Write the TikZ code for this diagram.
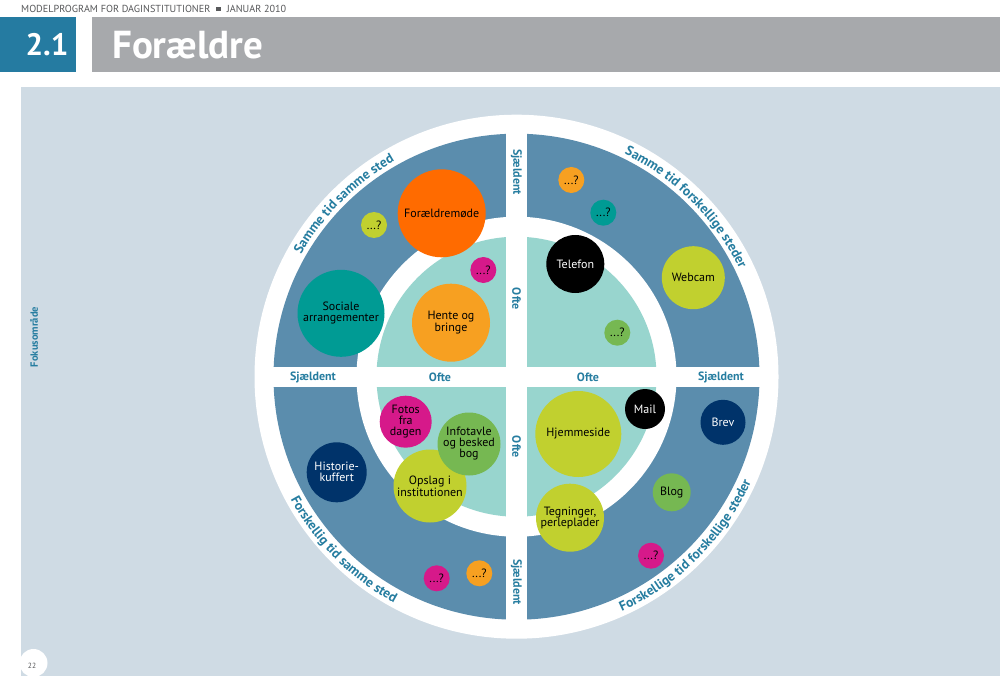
\documentclass[tikz,border=0pt]{standalone}
\usepackage{fontspec}
\setmainfont{PT Sans}
\usetikzlibrary{decorations.text,calc}
\definecolor{panel}{RGB}{207,219,228}
\definecolor{ring}{RGB}{91,141,173}
\definecolor{tealq}{RGB}{152,213,206}
\definecolor{lblue}{RGB}{38,125,160}
\definecolor{hblue}{RGB}{37,123,161}
\definecolor{hgrey}{RGB}{167,169,172}
\definecolor{tgrey}{RGB}{88,89,91}
\definecolor{cOrange}{RGB}{255,107,0}
\definecolor{cLOrange}{RGB}{247,160,33}
\definecolor{cYG}{RGB}{193,208,47}
\definecolor{cMag}{RGB}{214,25,138}
\definecolor{cTeal}{RGB}{0,155,148}
\definecolor{cGreen}{RGB}{118,184,82}
\definecolor{cNavy}{RGB}{0,51,106}
\begin{document}
\begin{tikzpicture}[x=1pt,y=1pt,
  bub/.style={circle, inner sep=0pt, align=center, text=black,
    font=\fontsize{12}{11}\selectfont},
  small/.style={bub, minimum size=26pt},
  lbl/.style={text=lblue, font=\bfseries\fontsize{12}{12}\selectfont, inner sep=0pt},
  curv/.style={decorate, decoration={text along path, text align=center,
    text color=lblue}}]
\useasboundingbox (0,0) rectangle (1000,-676);
\fill[white] (0,0) rectangle (1000,-676);
% header
\node[anchor=west, inner sep=0pt, text=tgrey, font=\fontsize{10.2}{10}\selectfont] (hdr) at (21,-9)
  {MODELPROGRAM FOR DAGINSTITUTIONER\hspace{6pt}\raisebox{1.5pt}{\rule{4.5pt}{4.5pt}}\hspace{6pt}JANUAR 2010};
\fill[hblue] (0,-17) rectangle (76,-72);
\fill[hgrey] (92,-17) rectangle (1000,-72);
\node[text=white, font=\bfseries\fontsize{31}{31}\selectfont, inner sep=0pt] (num) at (47,-45) {2.1};
\node[anchor=west, text=white, font=\bfseries\fontsize{39}{39}\selectfont, inner sep=0pt] (title) at (112,-45) {Forældre};
% panel
\fill[panel] (21,-87) rectangle (1000,-676);
\fill[white] (33.5,-663) circle (14);
\node[text=tgrey, font=\fontsize{7.5}{8}\selectfont, inner sep=0pt] (pg) at (32,-666) {22};
\node[rotate=90, text=lblue, font=\bfseries\fontsize{10.5}{10}\selectfont, inner sep=0pt] (fok) at (34,-337) {Fokusområde};
% circle
\coordinate (C) at (516.5,-376.7);
\fill[white] (C) circle (262);
\fill[ring] (C) circle (243);
\fill[white] (C) circle (160);
\fill[tealq] (C) circle (140);
\fill[white] ($(C)+(-10.5,-250)$) rectangle ($(C)+(10.5,250)$);
\fill[white] ($(C)+(-250,-10)$) rectangle ($(C)+(250,10)$);
% curved labels
\path[curv, decoration={text={|\bfseries\fontsize{13.5}{13.5}\selectfont|Samme tid samme sted}}]
  ($(C)+(180:247.5)$) arc (180:90:247.5);
\path[curv, decoration={text={|\bfseries\fontsize{13.5}{13.5}\selectfont|Samme tid forskellige steder}}]
  ($(C)+(90:247.5)$) arc (90:0:247.5);
\path[curv, decoration={text={|\bfseries\fontsize{13.5}{13.5}\selectfont|Forskellig tid samme sted}}]
  ($(C)+(180:257)$) arc (180:270:257);
\path[curv, decoration={text={|\bfseries\fontsize{13.5}{13.5}\selectfont|Forskellige tid forskellige steder}}]
  ($(C)+(270:257)$) arc (270:360:257);
% axis labels
\node[lbl] (hS1) at (313,-377) {Sjældent};
\node[lbl] (hO1) at (440,-377) {Ofte};
\node[lbl] (hO2) at (588,-377) {Ofte};
\node[lbl] (hS2) at (721,-377) {Sjældent};
\node[lbl, rotate=-90] (vS1) at (516.5,-172) {Sjældent};
\node[lbl, rotate=-90] (vO1) at (516.5,-299) {Ofte};
\node[lbl, rotate=-90] (vO2) at (516.5,-447) {Ofte};
\node[lbl, rotate=-90] (vS2) at (516.5,-582) {Sjældent};
% bubbles top-left
\node[bub, fill=cOrange, minimum size=88pt] (fm) at (441.7,-213.3) {Forældremøde};
\node[small, fill=cYG] (q1) at (374,-225) {...?};
\node[small, fill=cMag] (q2) at (483.3,-270) {...?};
\node[bub, fill=cTeal, minimum size=87pt] (soc) at (341,-313.3) {Sociale\\arrangementer};
\node[bub, fill=cLOrange, minimum size=78pt] (hen) at (451,-322.7) {Hente og\\bringe};
% top-right
\node[small, fill=cLOrange] (q3) at (571.3,-180) {...?};
\node[small, fill=cTeal] (q4) at (603.3,-212.7) {...?};
\node[bub, fill=black, text=white, minimum size=58pt] (tel) at (575.3,-264) {Telefon};
\node[bub, fill=cYG, minimum size=63pt] (web) at (693.3,-277.7) {Webcam};
\node[small, fill=cGreen] (q5) at (617.3,-332.7) {...?};
% bottom-left
\node[bub, fill=cMag, minimum size=52pt] (fot) at (405.7,-421.7) {Fotos\\fra\\dagen};
\node[bub, fill=cYG, minimum size=73pt] (ops) at (430,-486) {Opslag i\\institutionen};
\node[bub, fill=cGreen, minimum size=63pt] (inf) at (469,-444) {Infotavle\\og besked\\bog};
\node[bub, fill=cNavy, text=white, minimum size=60pt] (his) at (336.7,-472.3) {Historie-\\kuffert};
\node[small, fill=cMag] (q6) at (436.7,-578.3) {...?};
\node[small, fill=cLOrange] (q7) at (479.3,-573.3) {...?};
% bottom-right
\node[bub, fill=cYG, minimum size=86pt] (hjm) at (578.3,-434) {Hjemmeside};
\node[bub, fill=black, text=white, minimum size=40pt] (mail) at (645,-409) {Mail};
\node[bub, fill=cNavy, text=white, minimum size=45pt] (brev) at (723,-422.3) {Brev};
\node[bub, fill=cGreen, minimum size=38pt] (blog) at (671.7,-492.3) {Blog};
\node[bub, fill=cYG, minimum size=68pt] (teg) at (570,-517.7) {Tegninger,\\perleplader};
\node[small, fill=cMag] (q8) at (651,-555.7) {...?};
\end{tikzpicture}
\end{document}
